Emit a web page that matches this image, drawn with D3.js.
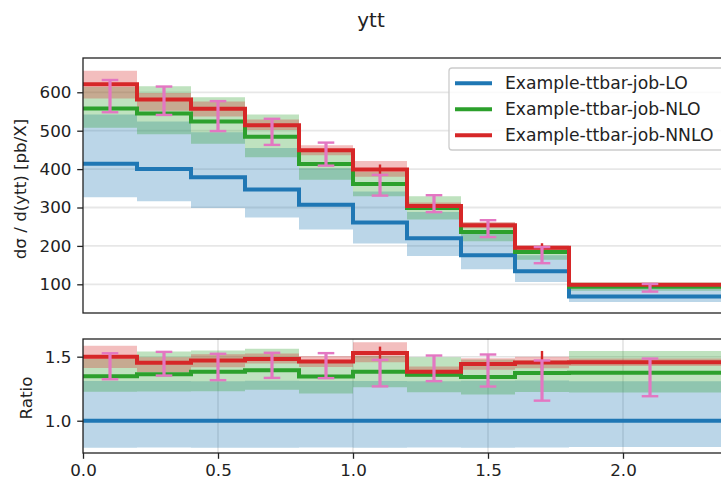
<!DOCTYPE html>
<html>
<head>
<meta charset="utf-8">
<script src="https://cdn.jsdelivr.net/npm/d3@7"></script>
<style>
  body { margin: 0; background: #fff; }
  svg { display: block; font-family: "DejaVu Sans", sans-serif; }
</style>
</head>
<body>
<div id="chart"></div>
<script>
// bin edges of ytt and the three predictions (pb/X)
const edges = [0, 0.2, 0.4, 0.6, 0.8, 1.0, 1.2, 1.4, 1.6, 1.8, 2.4];
const lo      = [414, 400, 379, 347, 307, 261, 220, 176, 134, 68];
const loLow   = [327, 316, 299, 274, 243, 206, 174, 139, 106, 54];
const loHigh  = [542, 524, 496, 455, 402, 342, 288, 231, 176, 89];
const nlo     = [558, 545, 524, 484, 413, 361, 299, 236, 184, 93.5];
const nloLow  = [508, 491, 466, 431, 372, 329, 269, 212, 164, 83];
const nloHigh = [614, 616, 587, 542, 450, 393, 329, 260, 197, 105];
const nnlo     = [621, 581, 557, 514, 449, 399, 304, 254, 195, 99];
const nnloLow  = [584, 552, 537, 502, 436, 380, 295, 246, 189, 97];
const nnloHigh = [656, 598, 576, 529, 462, 421, 313, 262, 201, 101];
const nnloErr  = [2, 2, 2, 2, 2, 13, 2, 3, 12, 1];
// pink points with error bars
const dataX   = [0.1, 0.3, 0.5, 0.7, 0.9, 1.1, 1.3, 1.5, 1.7, 2.1];
const dataVal = [590, 578, 538, 497, 439, 358, 310, 245, 176, 91];
const dataErr = [42, 37, 39, 34, 30, 27, 22, 22, 21, 10];

const labels = ['Example-ttbar-job-LO', 'Example-ttbar-job-NLO', 'Example-ttbar-job-NNLO'];
const xTicks = [0, 0.5, 1.0, 1.5, 2.0];
const yTicks = [100, 200, 300, 400, 500, 600];
const rTicks = [1.0, 1.5];

const C = { lo: '#1f77b4', nlo: '#2ca02c', nnlo: '#d62728', data: '#e377c2' };

const W = 721, H = 484;
const svg = d3.select('#chart').append('svg').attr('width', W).attr('height', H);

const x = d3.scaleLinear().domain([0, 2.4]).range([83, 731]);
const yTop = d3.scaleLinear().domain([25.3, 689.3]).range([313, 58]);
const yRat = d3.scaleLinear().domain([0.748, 1.638]).range([453, 339]);

const defs = svg.append('defs');
defs.append('clipPath').attr('id', 'clipTop').append('rect')
  .attr('x', 83).attr('y', 58).attr('width', 648).attr('height', 255);
defs.append('clipPath').attr('id', 'clipRat').append('rect')
  .attr('x', 83).attr('y', 339).attr('width', 648).attr('height', 114);

// helpers: step line / band from per-bin values
const pts = arr => edges.map((e, i) => [e, arr[Math.min(i, arr.length - 1)]]);
function drawPanel(g, y, s) {
  const line = d3.line().x(d => x(d[0])).y(d => y(d[1])).curve(d3.curveStepAfter);
  const area = d3.area().x(d => x(d[0])).y0(d => y(d[1])).y1(d => y(d[2])).curve(d3.curveStepAfter);
  s.forEach(t => {
    const band = edges.map((e, i) => { const k = Math.min(i, t.low.length - 1); return [e, t.low[k], t.high[k]]; });
    g.append('path').attr('d', area(band)).attr('fill', t.color).attr('fill-opacity', 0.3);
  });
  s.forEach(t => {
    g.append('path').attr('d', line(pts(t.mid))).attr('fill', 'none')
      .attr('stroke', t.color).attr('stroke-width', 4);
  });
}

function errorBars(g, y, xs, vals, errs, color, w, cap) {
  xs.forEach((xv, i) => {
    const px = x(xv), y0 = y(vals[i] - errs[i]), y1 = y(vals[i] + errs[i]);
    g.append('line').attr('x1', px).attr('x2', px).attr('y1', y0).attr('y2', y1)
      .attr('stroke', color).attr('stroke-width', w);
    if (cap) {
      [y0, y1].forEach(yy => g.append('line').attr('x1', px - cap).attr('x2', px + cap)
        .attr('y1', yy).attr('y2', yy).attr('stroke', color).attr('stroke-width', 2.4));
    }
  });
}

const binX = edges.slice(0, -1).map((e, i) => (e + edges[i + 1]) / 2);

// ---------- top panel ----------
const gTop = svg.append('g').attr('clip-path', 'url(#clipTop)');
yTicks.forEach(v => gTop.append('line').attr('x1', 83).attr('x2', 731)
  .attr('y1', yTop(v)).attr('y2', yTop(v)).attr('stroke', '#b0b0b0').attr('stroke-opacity', 0.3).attr('stroke-width', 1.8));
drawPanel(gTop, yTop, [
  { mid: lo, low: loLow, high: loHigh, color: C.lo },
  { mid: nlo, low: nloLow, high: nloHigh, color: C.nlo },
  { mid: nnlo, low: nnloLow, high: nnloHigh, color: C.nnlo }
]);
errorBars(gTop, yTop, binX, nnlo, nnloErr, C.nnlo, 2.4, 0);
errorBars(gTop, yTop, dataX, dataVal, dataErr, C.data, 3.2, 8.3);

// ---------- ratio panel ----------
const div = (a, b) => a.map((v, i) => v / b[i]);
const gRat = svg.append('g').attr('clip-path', 'url(#clipRat)');
xTicks.forEach(v => gRat.append('line').attr('x1', x(v)).attr('x2', x(v))
  .attr('y1', 339).attr('y2', 453).attr('stroke', '#b0b0b0').attr('stroke-opacity', 0.35).attr('stroke-width', 1.6));
rTicks.forEach(v => gRat.append('line').attr('x1', 83).attr('x2', 731)
  .attr('y1', yRat(v)).attr('y2', yRat(v)).attr('stroke', '#b0b0b0').attr('stroke-opacity', 0.35).attr('stroke-width', 1.6));
drawPanel(gRat, yRat, [
  { mid: div(lo, lo), low: div(loLow, lo), high: div(loHigh, lo), color: C.lo },
  { mid: div(nlo, lo), low: div(nloLow, lo), high: div(nloHigh, lo), color: C.nlo },
  { mid: div(nnlo, lo), low: div(nnloLow, lo), high: div(nnloHigh, lo), color: C.nnlo }
]);
errorBars(gRat, yRat, binX, div(nnlo, lo), div(nnloErr, lo), C.nnlo, 2.4, 0);
errorBars(gRat, yRat, dataX, div(dataVal, lo), div(dataErr, lo), C.data, 3.2, 8.3);

// ---------- axes ----------
const font = 16.7;
const axL = d3.axisLeft(yTop).tickValues(yTicks).tickSize(5.8).tickPadding(5.8).tickFormat(d3.format('d'));
const axR = d3.axisLeft(yRat).tickValues(rTicks).tickSize(5.8).tickPadding(5.8).tickFormat(d3.format('.1f'));
const axB = d3.axisBottom(x).tickValues(xTicks).tickSize(5.8).tickPadding(5.8).tickFormat(d3.format('.1f'));
function styleAxis(g) {
  g.select('.domain').remove();
  g.selectAll('line').attr('stroke', '#222').attr('stroke-width', 1.3);
  g.selectAll('text').attr('font-size', font).attr('fill', '#222').attr('font-family', 'DejaVu Sans');
}
svg.append('g').attr('transform', 'translate(83,0)').call(axL).call(styleAxis);
svg.append('g').attr('transform', 'translate(83,0)').call(axR).call(styleAxis);
svg.append('g').attr('transform', 'translate(0,453)').call(axB).call(styleAxis);

// frames
[[58, 313], [339, 453]].forEach(([t, b]) => {
  svg.append('rect').attr('x', 83).attr('y', t).attr('width', 648).attr('height', b - t)
    .attr('fill', 'none').attr('stroke', '#222').attr('stroke-width', 1.3);
});

// labels
svg.append('text').attr('x', 371).attr('y', 27).attr('text-anchor', 'middle')
  .attr('font-size', 20).attr('fill', '#222').text('ytt');
svg.append('text').attr('transform', 'translate(20,189) rotate(-90)')
  .attr('text-anchor', 'middle').attr('dominant-baseline', 'central')
  .attr('font-size', font).attr('fill', '#222').text('dσ / d(ytt) [pb/X]');
svg.append('text').attr('transform', 'translate(26,398) rotate(-90)')
  .attr('text-anchor', 'middle').attr('dominant-baseline', 'central')
  .attr('font-size', font).attr('fill', '#222').text('Ratio');

// legend
const lg = svg.append('g');
lg.append('rect').attr('x', 449).attr('y', 68).attr('width', 290).attr('height', 82).attr('rx', 3)
  .attr('fill', '#fff').attr('fill-opacity', 0.8).attr('stroke', '#ccc').attr('stroke-width', 1.3);
[C.lo, C.nlo, C.nnlo].forEach((c, i) => {
  const yy = 83.3 + i * 26;
  lg.append('line').attr('x1', 455).attr('x2', 492).attr('y1', yy).attr('y2', yy)
    .attr('stroke', c).attr('stroke-width', 4);
  lg.append('text').attr('x', 505).attr('y', yy).attr('dy', '0.35em')
    .attr('font-size', 17.2).attr('fill', '#222').text(labels[i]);
});
</script>
</body>
</html>
